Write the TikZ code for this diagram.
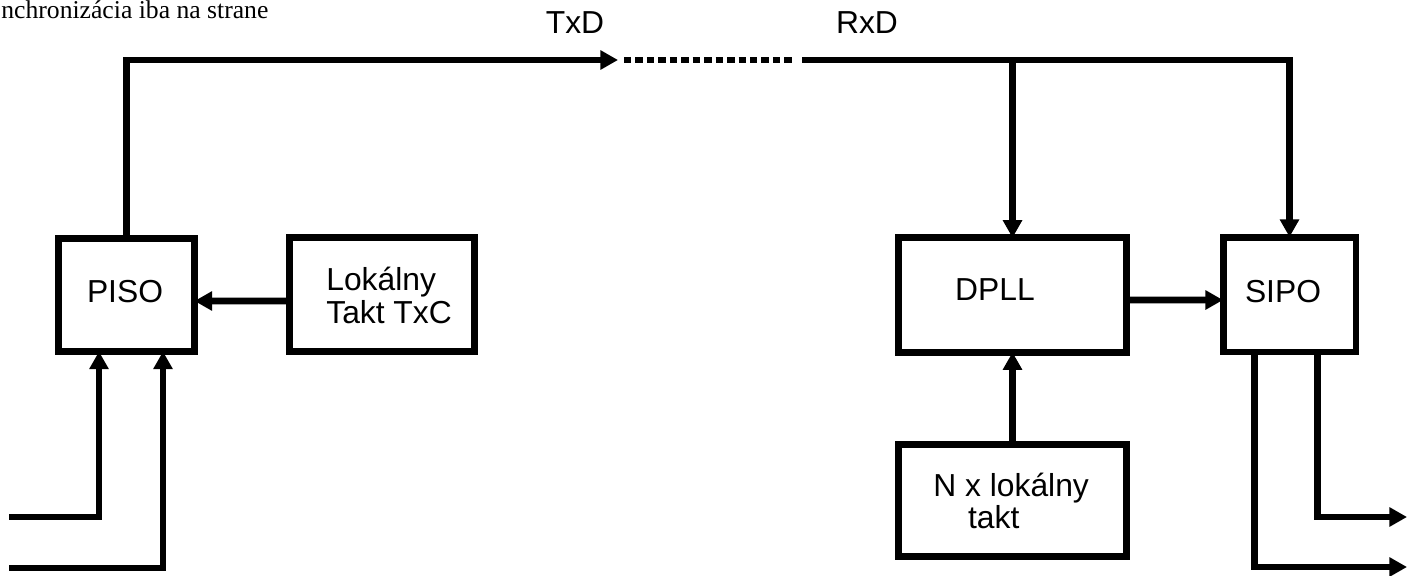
\documentclass[tikz,border=0pt]{standalone}
\usepackage{fontspec}
\setmainfont{Liberation Sans}
\newfontfamily\timesfont{Liberation Serif}
\usetikzlibrary{arrows.meta,calc,positioning}

\tikzset{
  wire/.style={line width=3.97pt},
  blok/.style={draw,line width=3.97pt,outer sep=0pt,inner sep=0pt},
  lbl/.style={inner sep=0pt,font=\fontsize{18.1pt}{18.7pt}\selectfont},
}

\begin{document}
\begin{tikzpicture}[x=0.02cm,y=-0.02cm,>={Triangle[length=10pt,width=10.5pt]}]
  \useasboundingbox (0,0) rectangle (1415,575);
  \node[anchor=base west,inner sep=0pt,font=\timesfont\fontsize{14.6pt}{17pt}\selectfont]
    (note) at (1,18) {nchronizácia iba na strane};

  % vysielac
  \node[blok,minimum width=2.72cm,minimum height=2.26cm] (piso) at (126.5,295) {};
  \node[blok,minimum width=3.70cm,minimum height=2.28cm] (lokal) at (382,294.5) {};
  \node[lbl] (pisotxt) at (125,292) {PISO};
  \node[lbl,anchor=west,align=left] (lokaltxt) at (326,295.5) {Lokálny\\Takt TxC};

  % prijimac
  \node[blok,minimum width=4.56cm,minimum height=2.29cm] (dpll) at (1012.5,295) {};
  \node[blok,minimum width=2.66cm,minimum height=2.30cm] (sipo) at (1289.5,294.5) {};
  \node[blok,minimum width=4.56cm,minimum height=2.24cm] (nbox) at (1012.5,500.5) {};
  \node[lbl] (dplltxt) at (995,290) {DPLL};
  \node[lbl] (sipotxt) at (1283,292) {SIPO};
  \node[lbl,anchor=west,align=left] (nboxtxt) at (933,501) {N x lokálny\\\hspace*{19.8pt}takt};

  % linka TxD -> RxD
  \node[lbl] (txdtxt) at (575,23) {TxD};
  \node[lbl] (rxdtxt) at (867,23) {RxD};
  \coordinate (txd) at (618,60);
  \coordinate (rxd) at (802,60);
  \draw[wire,->] (piso.north) |- (txd);
  \draw[wire,dash pattern=on 4.25pt off 2.27pt] ($(txd)+(6,0)$) -- ($(rxd)+(-6.5,0)$);
  \draw[wire,->] (rxd) -| (sipo.north);
  \draw[wire,->] (dpll.north |- rxd) -- (dpll.north);

  \draw[wire,->] ($(lokal.west)+(0,6.5)$) -- ($(piso.east)+(0,6)$);
  \draw[wire,->] ($(dpll.east)+(0,5)$) -- ($(sipo.west)+(0,5.5)$);
  \draw[wire,->] (nbox.north) -- (dpll.south);

  % paralelne vstupy a vystupy
  \coordinate (in1) at (9,517);
  \coordinate (in2) at (9,568);
  \draw[wire,->] (in1) -| ($(piso.south)+(-27.5,0)$);
  \draw[wire,->] (in2) -| ($(piso.south)+(36.5,0)$);
  \coordinate (out1) at (1407,517);
  \coordinate (out2) at (1407,567);
  \draw[wire,->] ($(sipo.south)+(27.5,0)$) |- (out1);
  \draw[wire,->] ($(sipo.south)+(-35.5,0)$) |- (out2);
\end{tikzpicture}
\end{document}
